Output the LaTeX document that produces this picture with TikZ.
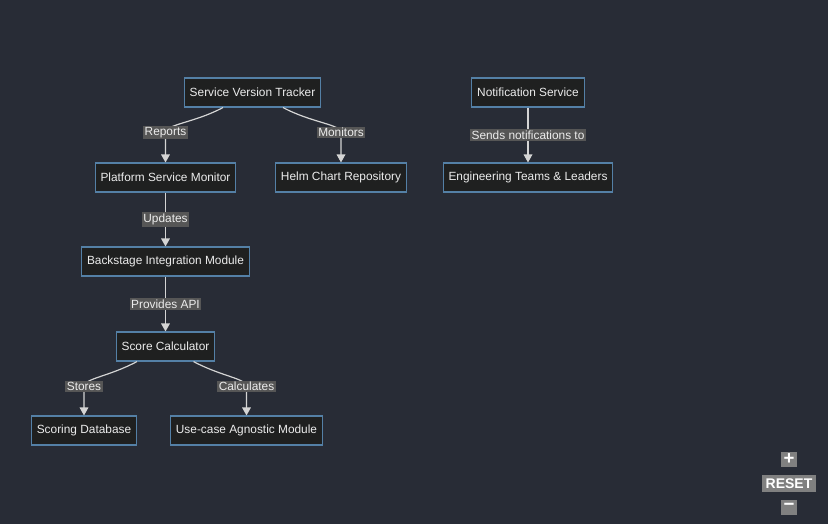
\documentclass[tikz,border=0pt]{standalone}
\usepackage{fontspec}
\setmainfont{Liberation Sans}
\usepackage{xcolor}
\usepackage{tikz}
\usetikzlibrary{calc}
\usetikzlibrary{arrows.meta}
\definecolor{bgcol}{RGB}{40,44,54}
\definecolor{boxfill}{RGB}{31,32,32}
\definecolor{boxline}{RGB}{84,128,166}
\definecolor{linecol}{RGB}{212,212,212}
\definecolor{labelfill}{RGB}{86,86,86}
\definecolor{textcol}{RGB}{236,236,236}
\definecolor{ctrlfill}{RGB}{128,128,128}
\tikzstyle{box} = [rectangle, 
minimum height=21.75pt, 
inner xsep=4pt, 
fill=boxfill, 
draw=boxline, 
line width=0.8pt, 
text=textcol, 
font=\fontsize{8.9}{10}\selectfont]
\tikzstyle{edgelabel} = [rectangle, 
fill=labelfill, 
text=textcol, 
inner sep=1.2pt, 
font=\fontsize{8.9}{10}\selectfont]
\tikzstyle{flow} = [draw=linecol, line width=0.9pt, -{Triangle[width=6.5pt,length=6pt]}]
\tikzstyle{ctrl} = [rectangle, fill=ctrlfill, text=white, inner sep=0pt, 
font=\bfseries\fontsize{10.5}{12}\selectfont]

\begin{document}
\begin{tikzpicture}[x=0.75pt, y=-0.75pt]
	\fill [bgcol] (0,0) rectangle (828,524);
	\useasboundingbox (0,0) rectangle (828,524);
	
	\node (tracker) [box] at (252.5,92.5) {Service Version Tracker};
	\node (platformMon) [box] at (165.5,177.5) {Platform Service Monitor};
	\node (helmRepo) [box] at (341,177.5) {Helm Chart Repository};
	\node (notifService) [box] at (528,92.5) {Notification Service};
	\node (engTeams) [box] at (528,177.5) {Engineering Teams \& Leaders};
	\node (backstage) [box] at (165.5,261.5) {Backstage Integration Module};
	\node (scoreCalc) [box] at (165.5,346.5) {Score Calculator};
	\node (scoringDb) [box] at (84,430.5) {Scoring Database};
	\node (agnosticMod) [box] at (246.5,430.5) {Use-case Agnostic Module};
	
	\draw [flow] ($(tracker.south)+(-29.5,0)$) .. controls +(-28,15) and +(0,-8) .. ($(platformMon.north)+(0,-30)$) node [edgelabel] {Reports} -- (platformMon.north);
	\draw [flow] ($(tracker.south)+(30.5,0)$) .. controls +(28,15) and +(0,-8) .. ($(helmRepo.north)+(0,-30)$) node [edgelabel] {Monitors} -- (helmRepo.north);
	\draw [flow] (notifService) -- (engTeams) node [edgelabel, midway] {Sends notifications to};
	\draw [flow] (platformMon) -- (backstage) node [edgelabel, midway] {Updates};
	\draw [flow] (backstage) -- (scoreCalc) node [edgelabel, midway] {Provides API};
	\draw [flow] ($(scoreCalc.south)+(-28.5,0)$) .. controls +(-28,15) and +(0,-8) .. ($(scoringDb.north)+(0,-29)$) node [edgelabel] {Stores} -- (scoringDb.north);
	\draw [flow] ($(scoreCalc.south)+(28,0)$) .. controls +(28,15) and +(0,-8) .. ($(agnosticMod.north)+(0,-29)$) node [edgelabel] {Calculates} -- (agnosticMod.north);
	
	% zoom controls
	\node (zoomIn) [ctrl, minimum width=12pt, minimum height=11pt, font=\bfseries\fontsize{14}{14}\selectfont] at (789,459.5) {+};
	\node (reset) [ctrl, minimum width=40.5pt, minimum height=12.75pt] at (789,483.5) {RESET};
	\node (zoomOut) [ctrl, minimum width=12pt, minimum height=11pt, font=\bfseries\fontsize{14}{14}\selectfont] at (789,507.5) {\raisebox{0.5pt}{−}};
\end{tikzpicture}
\end{document}
